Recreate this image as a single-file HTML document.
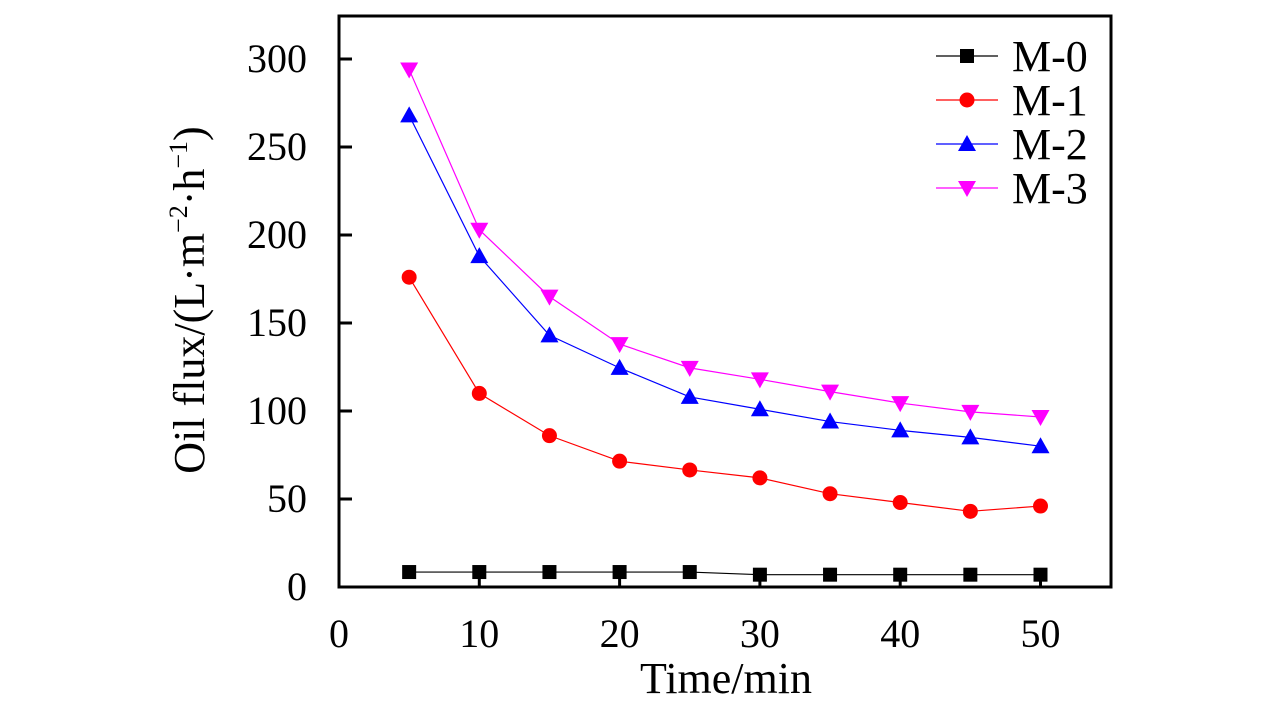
<!DOCTYPE html>
<html><head><meta charset="utf-8"><style>
html,body{margin:0;padding:0;background:#fff;}
svg{display:block;font-family:"Liberation Serif",serif;}
</style></head><body>
<svg width="1283" height="709" viewBox="0 0 1283 709">
<g id="plot"></g>
<rect x="339" y="16" width="772" height="571" fill="none" stroke="#000" stroke-width="3"/>
<text x="726" y="693" font-size="44" text-anchor="middle">Time/min</text>
<text transform="translate(204,300) rotate(-90)" font-size="44" text-anchor="middle">Oil flux/(L·m<tspan font-size="26" dy="-17">−2</tspan><tspan dy="17">·h</tspan><tspan font-size="26" dy="-17">−1</tspan><tspan dy="17">)</tspan></text>
</svg>
<script>
const times=[5,10,15,20,25,30,35,40,45,50];
const m0=[8.5,8.5,8.5,8.5,8.5,7,7,7,7,7];
const m1=[176,110,86,71.5,66.5,62,53,48,43,46];
const m2=[268,188,143,124.5,108,101,94,89,85,80];
const m3=[294,203,165,138,124.5,118,111,104.5,99.5,96.6];
const xTicks=[0,10,20,30,40,50];
const yTicks=[0,50,100,150,200,250,300];
const seriesNames=['M-0','M-1','M-2','M-3'];
const NS='http://www.w3.org/2000/svg';
const g=document.getElementById('plot');
function xs(v){return 339+v*14.03;}
function ys(v){return 587-v*1.76;}
function mk(t,a,p){const e=document.createElementNS(NS,t);for(const k in a)e.setAttribute(k,a[k]);(p||g).appendChild(e);return e;}
xTicks.forEach(v=>{
  const l=mk('line',{x1:xs(v),x2:xs(v),y1:587,y2:575,stroke:'#000','stroke-width':3});
  
  
  const t=mk('text',{x:xs(v),y:647,'font-size':40,'text-anchor':'middle'});t.textContent=v;
  
  
});
yTicks.forEach(v=>{
  const l=mk('line',{x1:339,x2:352,y1:ys(v),y2:ys(v),stroke:'#000','stroke-width':3});
  
  
  const t=mk('text',{x:307,y:ys(v)+13,'font-size':40,'text-anchor':'end'});t.textContent=v;
  
  
});
function marker(kind,cx,cy,c,parent){
  let e;
  if(kind==='sq')e=mk('rect',{x:cx-7,y:cy-7,width:14,height:14,fill:c},parent);
  else if(kind==='ci')e=mk('circle',{cx:cx,cy:cy,r:7.5,fill:c},parent);
  else if(kind==='up')e=mk('polygon',{points:`${cx},${cy-9} ${cx-9},${cy+7} ${cx+9},${cy+7}`,fill:c},parent);
  else e=mk('polygon',{points:`${cx},${cy+9} ${cx-9},${cy-7} ${cx+9},${cy-7}`,fill:c},parent);
  return e;
}
const all=[[m0,'#000','sq'],[m1,'#ff0000','ci'],[m2,'#0000ff','up'],[m3,'#ff00ff','dn']];
all.forEach((s,i)=>{
  const sg=mk('g',{});
  
  
  const pts=s[0].map((v,j)=>xs(times[j])+','+ys(v)).join(' ');
  const pl=mk('polyline',{points:pts,fill:'none',stroke:s[1],'stroke-width':1.2},sg);
  
  
  s[0].forEach((v,j)=>{
    const m=marker(s[2],xs(times[j]),ys(v),s[1],sg);
    
    
  });
  const lg=mk('g',{});
  
  
  const y=56+i*44;
  mk('line',{x1:936,x2:998,y1:y,y2:y,stroke:s[1],'stroke-width':1.2},lg);
  marker(s[2],967,y,s[1],lg);
  const t=mk('text',{x:1012,y:y+15,'font-size':44},lg);t.textContent=seriesNames[i];
});
</script>
</body></html>
